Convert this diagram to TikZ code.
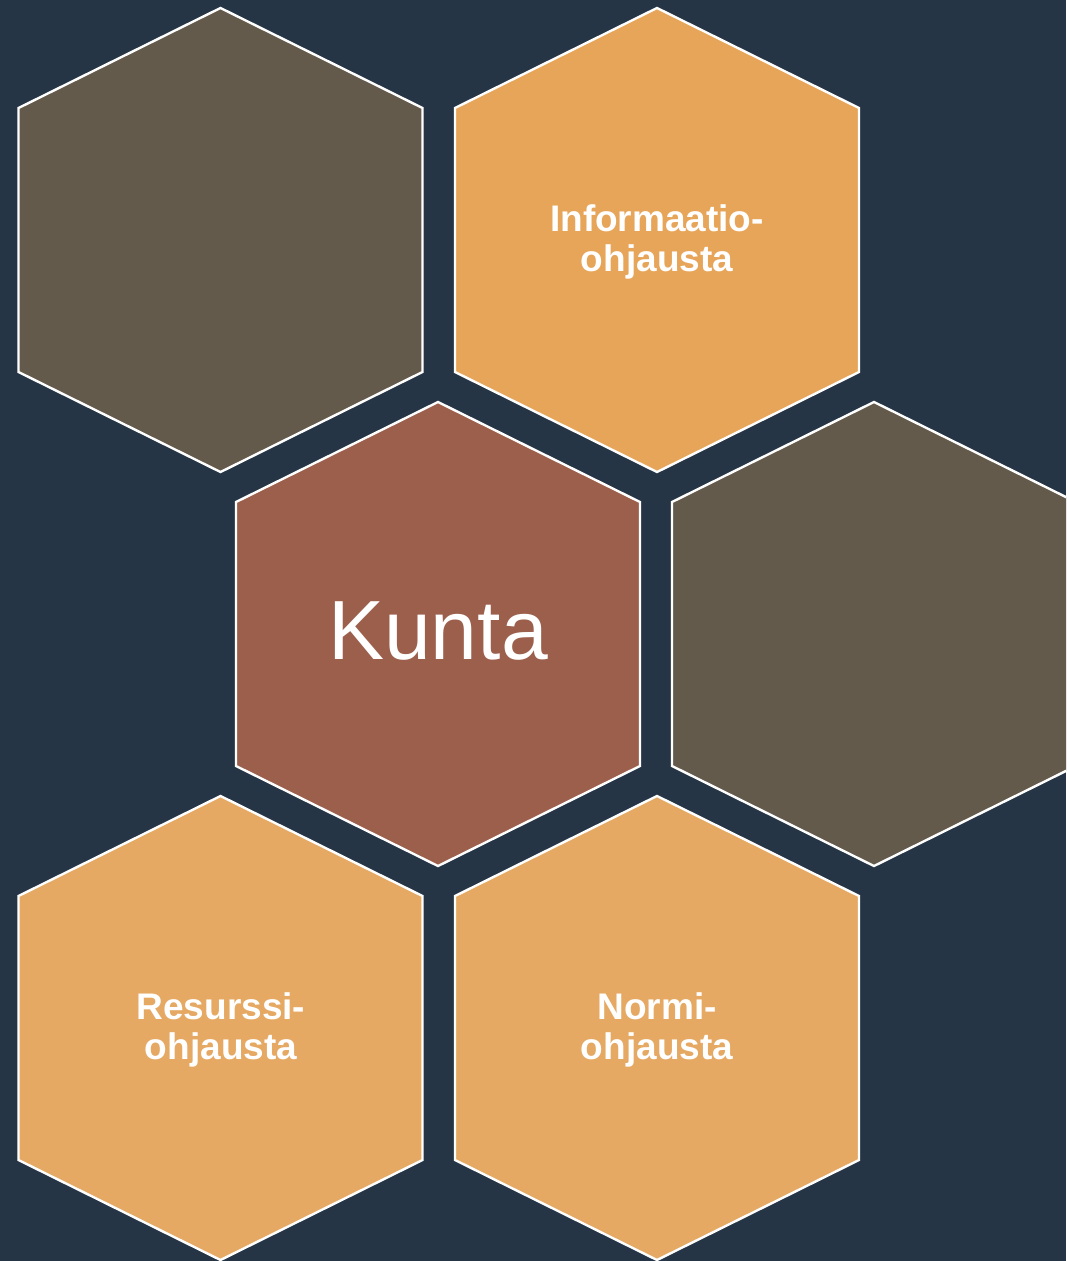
\documentclass[tikz,border=0pt]{standalone}
\usepackage{fontspec}
\setmainfont{Liberation Sans}
\definecolor{bgc}{HTML}{253546}
\definecolor{greyb}{HTML}{635A4B}
\definecolor{orangea}{HTML}{E7A55A}
\definecolor{orangeb}{HTML}{E5A964}
\definecolor{kuntac}{HTML}{9C5F4C}
\tikzset{
  hexshape/.style={draw=white, line width=2.4pt, line join=miter},
  lbl/.style={text=white, align=center, font=\bfseries\fontsize{37}{40}\selectfont},
  bigl/.style={text=white, align=center, font=\fontsize{84}{90}\selectfont}
}
\newcommand{\myhex}[4]{%
  \coordinate (#4) at (#1,#2);
  \fill[#3] (#1,#2-232) -- (#1+202,#2-132) -- (#1+202,#2+132) -- (#1,#2+232) -- (#1-202,#2+132) -- (#1-202,#2-132) -- cycle;
  \draw[hexshape] (#1,#2-232) -- (#1+202,#2-132) -- (#1+202,#2+132) -- (#1,#2+232) -- (#1-202,#2+132) -- (#1-202,#2-132) -- cycle;
}
\begin{document}
\begin{tikzpicture}[x=1pt,y=-1pt]
\useasboundingbox (0,0) rectangle (1066,1261);
\fill[bgc] (0,0) rectangle (1066,1261);
\clip (0,0) rectangle (1066,1261);
\myhex{220.5}{240}{greyb}{h1}
\myhex{657}{240}{orangea}{h2}
\myhex{438}{634}{kuntac}{h3}
\myhex{874}{634}{greyb}{h4}
\myhex{220.5}{1028}{orangeb}{h5}
\myhex{657}{1028}{orangeb}{h6}
\node[lbl] (t2) at (657,242) {Informaatio-\\ohjausta};
\node[bigl] (t3) at (438,631) {Kunta};
\node[lbl] (t5) at (221,1030) {Resurssi-\\ohjausta};
\node[lbl] (t6) at (657,1030) {Normi-\\ohjausta};
\end{tikzpicture}
\end{document}
